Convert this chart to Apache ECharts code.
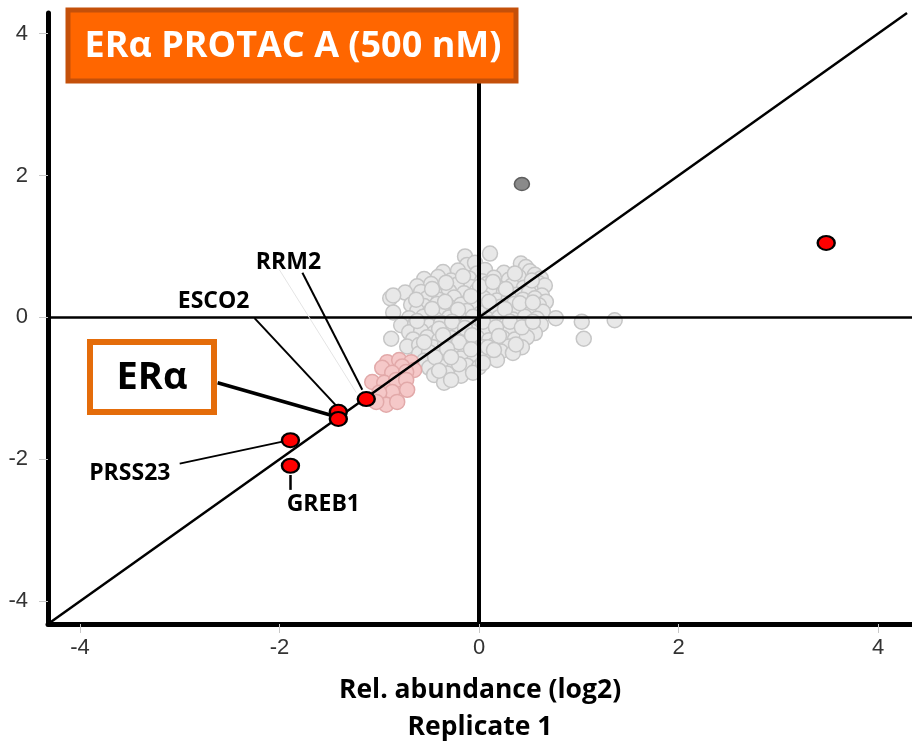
<!DOCTYPE html>
<html><head><meta charset="utf-8">
<script src="https://cdn.jsdelivr.net/npm/echarts@6/dist/echarts.min.js"></script>
<style>html,body{margin:0;padding:0;background:#fff}#c{width:912px;height:742px}</style>
</head><body><div id="c"></div>
<script>
const xTicks = [-4, -2, 0, 2, 4];
const yTicks = [-4, -2, 0, 2, 4];
const greyPoints = [
[-0.14,0.86],[0.11,0.90],
[-0.12,0.74],[-0.04,0.77],[0.42,0.76],[0.47,0.71],[0.51,0.65],
[-0.36,0.64],[-0.21,0.66],[-0.02,0.62],[0.06,0.67],[0.25,0.63],[0.56,0.60],[0.62,0.55],
[-0.55,0.54],[-0.41,0.57],[-0.28,0.52],[-0.10,0.55],[0.03,0.51],[0.15,0.56],[0.30,0.53],[0.40,0.57],[0.60,0.48],
[-0.62,0.44],[-0.48,0.47],[-0.35,0.42],[-0.22,0.46],[-0.08,0.43],[0.08,0.47],[0.20,0.41],[0.33,0.45],[0.45,0.42],[0.57,0.40],[0.66,0.45],
[-0.74,0.35],[-0.58,0.36],[-0.44,0.33],[-0.30,0.37],[-0.15,0.34],[-0.02,0.38],[0.12,0.33],[0.25,0.36],[0.38,0.32],[0.50,0.35],[0.63,0.31],
[-0.89,0.27],[-0.86,0.31],[-0.52,0.27],[-0.40,0.25],[-0.25,0.28],[-0.10,0.24],[0.05,0.27],[0.18,0.24],[0.30,0.28],[0.44,0.25],[0.56,0.27],[0.67,0.22],
[-0.68,0.18],[-0.55,0.16],[-0.42,0.19],[-0.30,0.15],[-0.18,0.18],[-0.05,0.14],[0.08,0.17],[0.22,0.15],[0.35,0.19],[0.48,0.15],[0.60,0.17],
[-0.86,0.07],[-0.62,0.09],[-0.50,0.06],[-0.36,0.08],[-0.24,0.05],[-0.12,0.09],[0.02,0.06],[0.15,0.08],[0.28,0.05],[0.40,0.09],[0.52,0.06],[0.64,0.08],
[-0.70,-0.01],[-0.56,0.01],[-0.44,-0.02],[-0.30,0.00],[-0.18,-0.03],[-0.06,0.01],[0.08,-0.02],[0.20,0.00],[0.34,-0.03],[0.46,0.01],[0.58,-0.02],[0.77,-0.01],[1.03,-0.06],[1.36,-0.04],
[-0.78,-0.11],[-0.64,-0.09],[-0.50,-0.12],[-0.38,-0.08],[-0.25,-0.11],[-0.12,-0.09],[0.00,-0.12],[0.12,-0.08],[0.26,-0.11],[0.38,-0.09],[0.50,-0.12],[0.62,-0.10],
[-0.70,-0.21],[-0.58,-0.19],[-0.45,-0.22],[-0.32,-0.18],[-0.20,-0.21],[-0.08,-0.19],[0.06,-0.22],[0.18,-0.18],[0.30,-0.21],[0.44,-0.19],[0.56,-0.22],
[-0.88,-0.30],[-0.66,-0.31],[-0.52,-0.28],[-0.40,-0.32],[-0.28,-0.29],[-0.15,-0.31],[-0.02,-0.28],[0.10,-0.32],[0.24,-0.29],[0.36,-0.31],[0.48,-0.28],[1.05,-0.30],
[-0.72,-0.41],[-0.60,-0.39],[-0.46,-0.42],[-0.34,-0.38],[-0.22,-0.41],[-0.10,-0.39],[0.04,-0.42],[0.16,-0.38],[0.30,-0.41],[0.43,-0.42],
[-0.60,-0.51],[-0.50,-0.49],[-0.38,-0.52],[-0.26,-0.48],[-0.14,-0.51],[-0.02,-0.49],[0.10,-0.52],[0.22,-0.48],[0.34,-0.50],
[-0.55,-0.61],[-0.42,-0.59],[-0.30,-0.62],[-0.18,-0.58],[-0.05,-0.61],[0.07,-0.57],[0.18,-0.60],
[-0.50,-0.71],[-0.38,-0.69],[-0.25,-0.72],[-0.12,-0.68],[0.00,-0.70],
[-0.45,-0.81],[-0.32,-0.79],[-0.18,-0.82],[-0.06,-0.78],
[-0.35,-0.92],[-0.28,-0.88],
[-0.47,0.40],[-0.33,0.49],[-0.16,0.58],[0.01,0.44],[0.14,0.50],[0.27,0.40],[0.36,0.62],[0.53,0.52],
[-0.63,0.25],[-0.47,0.12],[-0.34,0.22],[-0.21,0.11],[-0.08,0.30],[0.10,0.22],[0.26,0.12],[0.41,0.20],[0.54,0.21],
[-0.62,-0.05],[-0.40,-0.16],[-0.27,-0.06],[-0.14,-0.15],[0.04,-0.06],[0.17,-0.14],[0.31,-0.06],[0.43,-0.14],[0.54,-0.06],
[-0.55,-0.35],[-0.36,-0.25],[-0.20,-0.35],[-0.07,-0.25],[0.09,-0.42],[0.20,-0.26],[0.37,-0.38],
[-0.44,-0.56],[-0.32,-0.44],[-0.20,-0.66],[-0.08,-0.45],[0.04,-0.64],[0.15,-0.46],[-0.40,-0.75],[-0.28,-0.56]
];
const pinkPoints = [
[-0.92,-0.63],[-0.80,-0.60],[-0.68,-0.63],[-0.97,-0.71],[-0.77,-0.69],[-0.65,-0.74],
[-0.87,-0.78],[-0.73,-0.77],[-1.07,-0.91],[-0.95,-0.92],[-0.83,-0.88],[-0.73,-0.88],
[-0.87,-1.05],[-0.72,-1.02],[-1.00,-1.06],[-0.93,-1.23],[-0.82,-1.19],[-1.03,-1.19]
];
const darkPoints = [[0.43, 1.88]];
const hitPoints = [[-1.13,-1.15],[-1.41,-1.33],[-1.41,-1.43],[-1.89,-1.73],[-1.89,-2.09],[3.48,1.05]];
const labelNames = ['RRM2', 'ESCO2', 'PRSS23', 'GREB1'];
const labelPos = [[-1.91,0.78],[-2.66,0.22],[-3.50,-2.20],[-1.56,-2.63]];
const leaderLines = [
  {from:[-1.77,0.63], to:[-1.17,-1.02], w:2, c:'#000'},
  {from:[-2.00,0.67], to:[-1.23,-1.06], w:1, c:'#e4e4e4'},
  {from:[-2.25,-0.01], to:[-1.42,-1.26], w:2, c:'#000'},
  {from:[-2.62,-0.92], to:[-1.43,-1.40], w:3.5, c:'#000'},
  {from:[-3.00,-2.06], to:[-1.97,-1.75], w:2, c:'#000'},
  {from:[-1.89,-2.22], to:[-1.89,-2.43], w:2.5, c:'#000'}
];
const xMin = -4.32, xMax = 4.34, yMin = -4.32, yMax = 4.29;

const chart = echarts.init(document.getElementById('c'), null, {renderer:'canvas'});
const refLines = [
  {xAxis: 0, lineStyle:{color:'#000', width:4, type:'solid'}},
  {yAxis: 0, lineStyle:{color:'#000', width:2.5, type:'solid'}},
  [{coord:[xMin, yMin], lineStyle:{color:'#000', width:2.5, type:'solid'}}, {coord:[yMax, yMax]}]
].concat(leaderLines.map(l => [{coord:l.from, lineStyle:{color:l.c, width:l.w, type:'solid'}}, {coord:l.to}]));

chart.setOption({
  animation: false,
  grid: {left: 48, right: 0, top: 13, bottom: 118, outerBoundsMode: 'none', containLabel: false},
  xAxis: {
    type:'value', min:xMin, max:xMax,
    splitLine:{show:false},
    axisLine:{onZero:false, lineStyle:{color:'#000', width:5}},
    axisTick:{customValues:xTicks, length:9, lineStyle:{color:'#c8c8c8', width:1}},
    axisLabel:{customValues:xTicks, color:'#333', fontSize:22, fontFamily:'Liberation Sans', margin:13},
    name:'Rel. abundance (log2)\nReplicate 1', nameLocation:'middle', nameGap:48,
    nameTextStyle:{color:'#000', fontWeight:'bold', fontSize:26.5, fontFamily:'Open Sans', lineHeight:37}
  },
  yAxis: {
    type:'value', min:yMin, max:yMax,
    splitLine:{show:false},
    axisLine:{onZero:false, lineStyle:{color:'#000', width:5}},
    axisTick:{customValues:yTicks, length:9, lineStyle:{color:'#c8c8c8', width:1}},
    axisLabel:{customValues:yTicks, color:'#333', fontSize:22, fontFamily:'Liberation Sans', margin:20}
  },
  series: [
    {type:'scatter', z:2, data:greyPoints, symbol:'circle', symbolSize:15, silent:true,
     itemStyle:{color:'#e8e8e8', borderColor:'#c6c6c6', borderWidth:1.5, opacity:1}},
    {type:'scatter', z:2, data:pinkPoints, symbol:'circle', symbolSize:15, silent:true,
     itemStyle:{color:'#f5c8c8', borderColor:'#e2a9a9', borderWidth:1.5, opacity:1}},
    {type:'scatter', z:3, data:darkPoints, symbol:'circle', symbolSize:[15,13], silent:true,
     itemStyle:{color:'#8a8a8a', borderColor:'#5e5e5e', borderWidth:1.5, opacity:1},
     markLine:{silent:true, symbol:['none','none'], label:{show:false}, animation:false, data:refLines}},
    {type:'scatter', z:5, data:hitPoints, symbol:'circle', symbolSize:[17,14], silent:true,
     itemStyle:{color:'#ff0000', borderColor:'#000', borderWidth:2.2, opacity:1}},
    {type:'scatter', z:6, silent:true, symbolSize:0,
     itemStyle:{opacity:1},
     data:labelPos.map((p,i)=>({value:p, name:labelNames[i]})),
     label:{show:true, position:'inside', formatter:'{b}', color:'#000', fontWeight:'bold', fontSize:23, fontFamily:'Open Sans'}}
  ],
  graphic: [
    {type:'rect', z:100, shape:{x:68, y:10, width:448, height:71}, style:{fill:'#ff6600', stroke:'#c4500a', lineWidth:5}},
    {type:'text', z:101, x:293, y:47, style:{text:'ERα PROTAC A (500 nM)', fill:'#fff', font:'bold 36px "Open Sans"', align:'center', verticalAlign:'middle'}},
    {type:'rect', z:100, shape:{x:90, y:342, width:124, height:70}, style:{fill:'#fff', stroke:'#e46c0a', lineWidth:6}},
    {type:'text', z:101, x:152, y:378, style:{text:'ERα', fill:'#000', font:'bold 38px "Open Sans"', align:'center', verticalAlign:'middle'}}
  ]
});
</script>
</body></html>
